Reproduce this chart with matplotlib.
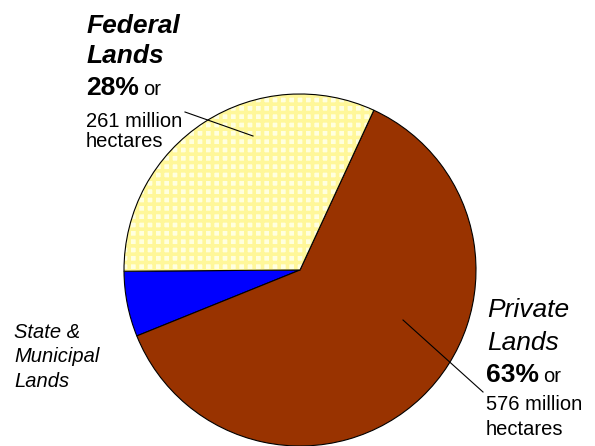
import matplotlib.pyplot as plt
from matplotlib.patches import Wedge

plt.rcParams['font.family'] = ['Liberation Sans', 'DejaVu Sans']
plt.rcParams['hatch.linewidth'] = 2.6

# slice shares as drawn (federal, state & municipal, private)
names = ['Federal Lands', 'State & Municipal Lands', 'Private Lands']
shares = [32, 6, 62]
colors = ['#FFFFE0', '#0000FF', '#993300']
hatch_fed = '++'
hatch_col = '#FFF799'

W, H = 595, 446
fig = plt.figure(figsize=(W / 100, H / 100), dpi=100)
ax = fig.add_axes([0, 0, 1, 1])

wedges, _ = ax.pie(shares, colors=colors, startangle=65.2, counterclock=True,
                   center=(300, H - 270), radius=176, frame=True,
                   wedgeprops=dict(edgecolor='black', linewidth=0.8))

# checkered fill for the federal slice: hatch drawn in yellow under the outline
fed = wedges[0]
fill = Wedge(fed.center, fed.r, fed.theta1, fed.theta2, facecolor=colors[0],
             edgecolor=hatch_col, linewidth=0, hatch=hatch_fed, zorder=fed.get_zorder())
ax.add_patch(fill)
fed.set_facecolor('none')
fed.set_zorder(fed.get_zorder() + 0.1)

ax.set_xlim(0, W)
ax.set_ylim(0, H)
ax.axis('off')


def put(x, y, s, **kw):
    # y given in image pixels from the top, baseline aligned
    ax.text(x, H - y, s, va='baseline', ha='left', **kw)


big = 19
small = 14.5

# Federal lands label
put(87, 33, 'Federal', fontsize=big, fontweight='bold', fontstyle='italic')
put(87, 63, 'Lands', fontsize=big, fontweight='bold', fontstyle='italic')
put(86, 95, '28%', fontsize=big, fontweight='bold')
put(143, 95, 'or', fontsize=small)
put(86, 127, '261 million', fontsize=small)
put(86, 147, 'hectares', fontsize=small)
ax.plot([185, 253], [H - 112, H - 136], color='black', lw=0.8, zorder=5)

# Private lands label
put(487, 317, 'Private', fontsize=big, fontstyle='italic')
put(487, 350, 'Lands', fontsize=big, fontstyle='italic')
put(486, 382, '63%', fontsize=big, fontweight='bold')
put(543, 382, 'or', fontsize=small)
put(486, 410, '576 million', fontsize=small)
put(486, 435, 'hectares', fontsize=small)
ax.plot([403, 483], [H - 320, H - 392], color='black', lw=0.8, zorder=5)

# State & municipal label
put(14, 338, 'State &', fontsize=small, fontstyle='italic')
put(14, 362, 'Municipal', fontsize=small, fontstyle='italic')
put(14, 387, 'Lands', fontsize=small, fontstyle='italic')

fig.savefig('out.png', dpi=100, facecolor='white')
